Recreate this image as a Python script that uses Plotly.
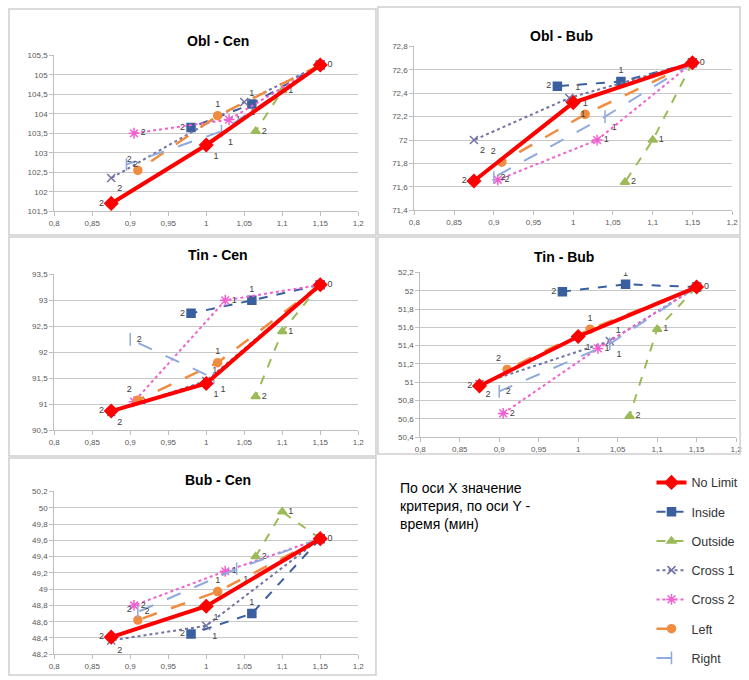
import plotly.graph_objects as go

# ---------------- data ----------------
SERIES = ["No Limit", "Inside", "Outside", "Cross 1", "Cross 2", "Left", "Right"]
POINT_LABELS = ["0", "1", "2"]
PANEL_TITLES = ["Obl - Cen", "Obl - Bub", "Tin - Cen", "Tin - Bub", "Bub - Cen"]

# x values (criterion) per series, points labelled 0, 1, 2
OBL_CEN_X = {"No Limit": [1.15, 1.0, 0.875], "Inside": [1.15, 1.06, 0.98], "Outside": [1.15, 1.1, 1.065],
             "Cross 1": [1.15, 1.05, 0.875], "Cross 2": [1.15, 1.03, 0.905], "Left": [1.15, 1.015, 0.91],
             "Right": [1.15, 1.02, 0.895]}
OBL_CEN_Y = {"No Limit": [105.25, 103.2, 101.7], "Inside": [105.25, 104.25, 103.65], "Outside": [105.25, 104.6, 103.55],
             "Cross 1": [105.25, 104.3, 102.35], "Cross 2": [105.25, 103.85, 103.5], "Left": [105.25, 103.95, 102.55],
             "Right": [105.25, 103.55, 102.7]}

OBL_BUB_X = {"No Limit": [1.15, 1.0, 0.875], "Inside": [1.15, 1.06, 0.98], "Outside": [1.15, 1.1, 1.065],
             "Cross 1": [1.15, 0.995, 0.875], "Cross 2": [1.15, 1.03, 0.905], "Left": [1.15, 1.015, 0.91],
             "Right": [1.15, 1.04, 0.9]}
OBL_BUB_Y = {"No Limit": [72.66, 72.32, 71.65], "Inside": [72.66, 72.5, 72.46], "Outside": [72.66, 72.0, 71.64],
             "Cross 1": [72.66, 72.36, 72.0], "Cross 2": [72.66, 72.0, 71.66], "Left": [72.66, 72.22, 71.81],
             "Right": [72.66, 72.2, 71.68]}

TIN_CEN_X = {"No Limit": [1.15, 1.0, 0.875], "Inside": [1.15, 1.06, 0.98], "Outside": [1.15, 1.1, 1.065],
             "Cross 1": [1.15, 1.0, 0.875], "Cross 2": [1.15, 1.025, 0.905], "Left": [1.15, 1.015, 0.91],
             "Right": [1.15, 1.01, 0.9]}
TIN_CEN_Y = {"No Limit": [93.3, 91.4, 90.87], "Inside": [93.3, 93.0, 92.75], "Outside": [93.3, 92.4, 91.15],
             "Cross 1": [93.3, 91.45, 90.85], "Cross 2": [93.3, 93.0, 91.05], "Left": [93.3, 91.8, 91.08],
             "Right": [93.3, 91.5, 92.25]}

TIN_BUB_X = {"No Limit": [1.15, 1.0, 0.875], "Inside": [1.15, 1.06, 0.98], "Outside": [1.15, 1.1, 1.065],
             "Cross 1": [1.15, 1.04, 0.875], "Cross 2": [1.15, 1.025, 0.905], "Left": [1.15, 1.015, 0.91],
             "Right": [1.15, 1.04, 0.9]}
TIN_BUB_Y = {"No Limit": [52.04, 51.5, 50.96], "Inside": [52.04, 52.07, 51.99], "Outside": [52.04, 51.58, 50.63],
             "Cross 1": [52.04, 51.45, 50.98], "Cross 2": [52.04, 51.37, 50.66], "Left": [52.04, 51.58, 51.14],
             "Right": [52.04, 51.42, 50.9]}

BUB_CEN_X = {"No Limit": [1.15, 1.0, 0.875], "Inside": [1.15, 1.06, 0.98], "Outside": [1.15, 1.1, 1.065],
             "Cross 1": [1.15, 1.0, 0.875], "Cross 2": [1.15, 1.025, 0.905], "Left": [1.15, 1.015, 0.91],
             "Right": [1.15, 1.04, 0.91]}
BUB_CEN_Y = {"No Limit": [49.62, 48.79, 48.41], "Inside": [49.62, 48.7, 48.45], "Outside": [49.62, 49.95, 49.4],
             "Cross 1": [49.62, 48.55, 48.37], "Cross 2": [49.62, 49.22, 48.8], "Left": [49.62, 48.97, 48.62],
             "Right": [49.62, 49.25, 48.72]}

X_RANGE = [0.8, 1.2]
Y_RANGES = [[101.5, 105.5], [71.4, 72.8], [90.5, 93.5], [50.4, 52.2], [48.2, 50.2]]
Y_DTICKS = [0.5, 0.2, 0.5, 0.2, 0.2]

PANELS_X = [OBL_CEN_X, OBL_BUB_X, TIN_CEN_X, TIN_BUB_X, BUB_CEN_X]
PANELS_Y = [OBL_CEN_Y, OBL_BUB_Y, TIN_CEN_Y, TIN_BUB_Y, BUB_CEN_Y]

NOTE_TEXT = "По оси X значение<br>критерия, по оси Y -<br>время (мин)"

# ---------------- styles ----------------
W, H = 749, 680
STYLE = {
    "No Limit": dict(color="#FF0000", dash="solid", width=4, symbol="diamond", size=10),
    "Inside": dict(color="#3A5F9E", dash="dash", width=2, symbol="square", size=8),
    "Outside": dict(color="#9BBB59", dash="dash", width=2, symbol="triangle-up", size=8),
    "Cross 1": dict(color="#7272A6", dash="dot", width=2, symbol="x-thin-open", size=8),
    "Cross 2": dict(color="#F060D0", dash="dot", width=2, symbol="asterisk-open", size=9),
    "Left": dict(color="#F08C40", dash="longdash", width=2.5, symbol="circle", size=8),
    "Right": dict(color="#8FAADC", dash="longdash", width=2, symbol="line-ns-open", size=9),
}
TEXTPOS = {
    "No Limit": ["middle right", "bottom right", "middle left"],
    "Inside": ["middle right", "top center", "middle left"],
    "Outside": ["middle right", "middle right", "middle right"],
    "Cross 1": ["middle right", "top right", "bottom right"],
    "Cross 2": ["middle right", "middle right", "middle right"],
    "Left": ["middle right", "top center", "top left"],
    "Right": ["middle right", "bottom right", "middle right"],
}
# per-panel label placement overrides (panel index, series)
TEXTPOS_OVERRIDE = {
    (0, "Cross 1"): ["middle right", "bottom right", "bottom right"],
    (4, "Cross 1"): ["middle right", "bottom right", "bottom right"],
}
# the shared end point "0" is labelled once (by No Limit)
SHOW_ZERO = {"No Limit": True}

# plot areas in pixels: (left, right, top, bottom)
AREAS = [(49, 358, 52, 210), (415, 738, 43, 209), (49, 358, 274, 432),
         (421, 742, 272, 439), (49, 358, 494, 659)]
TITLE_POS = [(215, 37), (565, 32), (215, 254), (567, 256), (215, 482)]
FRAMES = [(3, 5, 376, 234), (378, 3, 746, 234), (3, 236, 376, 458), (378, 236, 746, 456), (3, 460, 376, 680)]

fig = go.Figure()
layout = {}
annotations = []
shapes = []

for p in range(5):
    l, r, t, b = AREAS[p]
    sfx = "" if p == 0 else str(p + 1)
    xa, ya = "x" + sfx, "y" + sfx
    layout["xaxis" + sfx] = dict(
        domain=[l / W, r / W], anchor=ya, range=X_RANGE, dtick=0.05, tick0=0.8,
        showgrid=False, zeroline=False, showline=True, linecolor="#BFBFBF", linewidth=1,
        ticks="outside", ticklen=4, tickcolor="#BFBFBF",
        tickfont=dict(size=8, color="#595959", family="Liberation Sans"), fixedrange=True)
    layout["yaxis" + sfx] = dict(
        domain=[1 - b / H, 1 - t / H], anchor=xa, range=Y_RANGES[p], dtick=Y_DTICKS[p],
        tick0=Y_RANGES[p][0], showgrid=True, gridcolor="#C8C8C8", gridwidth=1, zeroline=False,
        showline=True, linecolor="#BFBFBF", linewidth=1, ticks="outside", ticklen=4,
        tickcolor="#BFBFBF", tickfont=dict(size=8, color="#595959", family="Liberation Sans"),
        fixedrange=True)
    order = SERIES[1:] + SERIES[:1]
    for name in order:
        st = STYLE[name]
        labels = [lab if (i > 0 or SHOW_ZERO.get(name, False)) else "" for i, lab in enumerate(POINT_LABELS)]
        fig.add_trace(go.Scatter(
            x=PANELS_X[p][name], y=PANELS_Y[p][name], xaxis=xa, yaxis=ya,
            mode="lines+markers+text", name=name, legendgroup=name,
            legendrank=SERIES.index(name) + 1, showlegend=(p == 0),
            text=labels, textposition=TEXTPOS_OVERRIDE.get((p, name), TEXTPOS[name]),
            textfont=dict(size=9, color="#404040", family="Liberation Sans"),
            line=dict(color=st["color"], dash=st["dash"], width=st["width"]),
            marker=dict(symbol=st["symbol"], size=st["size"], color=st["color"],
                        line=dict(color=st["color"], width=1.5)),
            hoverinfo="x+y+name"))
    tx, ty = TITLE_POS[p]
    annotations.append(dict(text="<b>" + PANEL_TITLES[p] + "</b>", x=tx / W, y=1 - ty / H,
                            xref="paper", yref="paper", showarrow=False, xanchor="center", yanchor="middle",
                            font=dict(size=14, color="#000000", family="Liberation Sans")))
    x0, y0, x1, y1 = FRAMES[p]
    shapes.append(dict(type="rect", xref="paper", yref="paper", x0=x0 / W, x1=x1 / W,
                       y0=1 - y1 / H, y1=1 - y0 / H, line=dict(color="#CFCFCF", width=1.5)))

annotations.append(dict(text=NOTE_TEXT, x=398 / W, y=1 - 480 / H, xref="paper", yref="paper",
                        showarrow=False, xanchor="left", yanchor="top", align="left",
                        font=dict(size=14, color="#000000", family="Liberation Sans")))

fig.update_layout(
    **layout,
    width=W, height=H, margin=dict(l=0, r=0, t=0, b=0),
    paper_bgcolor="white", plot_bgcolor="white",
    separators=", ",
    annotations=annotations, shapes=shapes,
    legend=dict(x=656 / W, y=1 - 470 / H, xanchor="left", yanchor="top",
                tracegroupgap=10, bgcolor="rgba(0,0,0,0)",
                font=dict(size=12.5, color="#333333", family="Liberation Sans"),
                itemwidth=30),
)

fig.write_html("out.html")
